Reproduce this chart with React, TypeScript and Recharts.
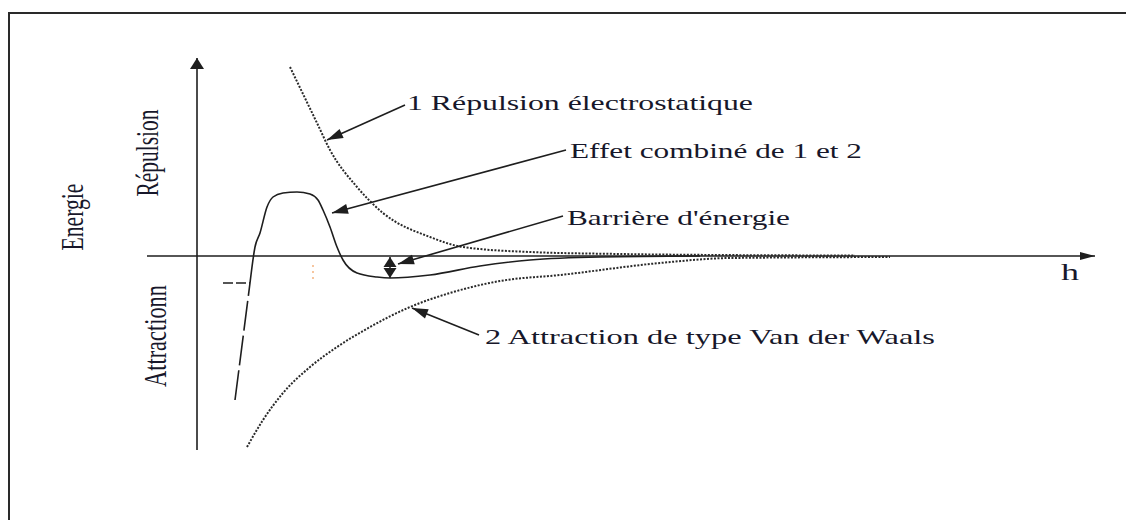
import React from 'react';
import { LineChart, Line, XAxis, YAxis, ReferenceLine, ReferenceDot } from 'recharts';

// distance h and energy values (arbitrary units)
const repulsionH = [0.93, 1.2, 1.33, 1.6, 1.86, 2.33, 2.66, 3.33, 4.23, 5.23, 6.58];
const repulsionE = [1.89, 1.33, 1.06, 0.69, 0.43, 0.19, 0.09, 0.04, 0.02, 0.01, 0.005];

const attractionH = [0.5, 0.66, 0.86, 1.13, 1.4, 1.73, 2.13, 2.53, 3.03, 3.63, 4.63, 5.33, 6.93];
const attractionE = [-1.91, -1.64, -1.37, -1.11, -0.91, -0.71, -0.51, -0.37, -0.25, -0.19, -0.07, -0.02, -0.01];

const combinedH = [0.53, 0.58, 0.63, 0.7, 0.76, 0.86, 1.0, 1.13, 1.21, 1.26, 1.33, 1.4, 1.46, 1.6, 1.8, 1.93, 2.33, 2.83, 3.33, 4.03, 5.03];
const combinedE = [-0.27, 0.09, 0.23, 0.49, 0.59, 0.63, 0.64, 0.62, 0.56, 0.46, 0.29, 0.09, -0.04, -0.17, -0.21, -0.22, -0.19, -0.1, -0.04, -0.01, 0];

// short-range end of the combined curve (long dashes in the original)
const combinedNearH = [0.38, 0.53];
const combinedNearE = [-1.44, -0.27];

// energy barrier marker
const barrierH = 1.93;
const barrierTop = -0.01;
const barrierBottom = -0.22;

// callout texts, where they sit and where their arrows point
const calloutTexts = ['1 Répulsion  électrostatique', 'Effet combiné de 1 et 2', "Barrière d'énergie", '2  Attraction de type Van der Waals'];
const calloutAt = [[2.1, 1.46], [3.73, 0.98], [3.7, 0.31], [2.88, -0.88]];
const calloutFrom = [[2.08, 1.51], [3.69, 1.06], [3.66, 0.4], [2.82, -0.79]];
const calloutTo = [[1.3, 1.16], [1.35, 0.43], [2.01, -0.08], [2.15, -0.52]];
const calloutWidth = [346, 292, 223, 450];

const axisLabels = ['Energie', 'Répulsion', 'Attractionn'];
const axisLabelAt = [[-1.14, 0.39], [-0.39, 1.03], [-0.31, -0.8]];
const axisLabelWidth = [67, 87, 102];

const toPoints = (hs: number[], es: number[]) => hs.map((h, i) => ({ h, e: es[i] }));

const repulsion = toPoints(repulsionH, repulsionE);
const attraction = toPoints(attractionH, attractionE);
const combined = toPoints(combinedH, combinedE);
const combinedNear = toPoints(combinedNearH, combinedNearE);

const INK = '#1e1e1e';
const TEXT = '#17172a';
const SERIF = 'Liberation Serif';

const arrowShape = (head: number, wide: number, both = false, width = 1.5) => (p: any) => {
  const { x1, y1, x2, y2 } = p;
  if ([x1, y1, x2, y2].some((v) => typeof v !== 'number')) return <g />;
  const ang = Math.atan2(y2 - y1, x2 - x1);
  const tri = (tx: number, ty: number, a: number) => {
    const bx = tx - head * Math.cos(a);
    const by = ty - head * Math.sin(a);
    const nx = (-Math.sin(a) * wide) / 2;
    const ny = (Math.cos(a) * wide) / 2;
    return `${tx},${ty} ${bx + nx},${by + ny} ${bx - nx},${by - ny}`;
  };
  return (
    <g>
      <line x1={x1} y1={y1} x2={x2} y2={y2} stroke={INK} strokeWidth={width} />
      <polygon points={tri(x2, y2, ang)} fill={INK} />
      {both && <polygon points={tri(x1, y1, ang + Math.PI)} fill={INK} />}
    </g>
  );
};

const textShape = (text: string, width: number, size = 21) => (p: any) => (
  <text
    x={p.cx}
    y={p.cy}
    style={{ fontFamily: SERIF }}
    fontSize={size}
    fill={TEXT}
    textLength={width}
    lengthAdjust="spacingAndGlyphs"
  >
    {text}
  </text>
);

const verticalShape = (text: string, width: number) => (p: any) => (
  <text
    transform={`translate(${p.cx},${p.cy}) scale(1.5,1) rotate(-90)`}
    textAnchor="middle"
    style={{ fontFamily: SERIF }}
    fontSize={21}
    fill={TEXT}
    textLength={width}
    lengthAdjust="spacingAndGlyphs"
  >
    {text}
  </text>
);

export default function App() {
  return (
    <div
      style={{
        marginTop: 4,
        width: 1121,
        height: 520,
        borderTop: '2px solid #2a2a2a',
        borderLeft: '2px solid #2a2a2a',
        borderRight: '1px solid #e6e6e6',
        background: '#fff',
      }}
    >
      <LineChart width={1110} height={500} margin={{ top: 2, right: 23, bottom: 18, left: 37 }}>
        <XAxis type="number" dataKey="h" domain={[-1.5, 9]} allowDataOverflow hide />
        <YAxis type="number" dataKey="e" domain={[-2.4, 2.4]} allowDataOverflow hide />

        {/* axes with arrows */}
        <ReferenceLine segment={[{ x: 0, y: -1.94 }, { x: 0, y: 1.98 }]} ifOverflow="visible" shape={arrowShape(11, 14, false, 1.6)} />
        <ReferenceLine segment={[{ x: -0.5, y: 0 }, { x: 8.98, y: 0 }]} ifOverflow="visible" shape={arrowShape(15, 8, false, 1.3)} />

        <Line data={repulsion} dataKey="e" type="monotone" stroke="#2a2a2a" strokeWidth={2} strokeDasharray="2 1.5" dot={false} activeDot={false} isAnimationActive={false} />
        <Line data={attraction} dataKey="e" type="monotone" stroke="#2a2a2a" strokeWidth={2} strokeDasharray="2 1.5" dot={false} activeDot={false} isAnimationActive={false} />
        <Line data={combined} dataKey="e" type="monotone" stroke={INK} strokeWidth={1.6} dot={false} activeDot={false} isAnimationActive={false} />
        <Line data={combinedNear} dataKey="e" type="linear" stroke={INK} strokeWidth={1.6} strokeDasharray="30 5" dot={false} activeDot={false} isAnimationActive={false} />

        {/* stray marks of the scanned figure */}
        <ReferenceLine segment={[{ x: 0.26, y: -0.27 }, { x: 0.53, y: -0.27 }]} stroke={INK} strokeWidth={1.3} strokeDasharray="10 3" />
        <ReferenceLine segment={[{ x: 1.16, y: -0.09 }, { x: 1.16, y: -0.24 }]} stroke="#f0a060" strokeWidth={1.2} strokeDasharray="2 4" />

        {/* energy barrier */}
        <ReferenceLine segment={[{ x: barrierH, y: barrierBottom }, { x: barrierH, y: barrierTop }]} shape={arrowShape(10, 13, true, 1.5)} />

        {calloutTexts.map((t, i) => (
          <ReferenceLine
            key={`arrow-${i}`}
            segment={[{ x: calloutFrom[i][0], y: calloutFrom[i][1] }, { x: calloutTo[i][0], y: calloutTo[i][1] }]}
            shape={arrowShape(16, 10, false, 1.6)}
          />
        ))}
        {calloutTexts.map((t, i) => (
          <ReferenceDot key={`text-${i}`} x={calloutAt[i][0]} y={calloutAt[i][1]} r={0} shape={textShape(t, calloutWidth[i])} />
        ))}
        {axisLabels.map((t, i) => (
          <ReferenceDot key={`axis-${i}`} x={axisLabelAt[i][0]} y={axisLabelAt[i][1]} r={0} shape={verticalShape(t, axisLabelWidth[i])} />
        ))}
        <ReferenceDot x={8.64} y={-0.24} r={0} shape={textShape('h', 18, 24)} />
      </LineChart>
    </div>
  );
}
